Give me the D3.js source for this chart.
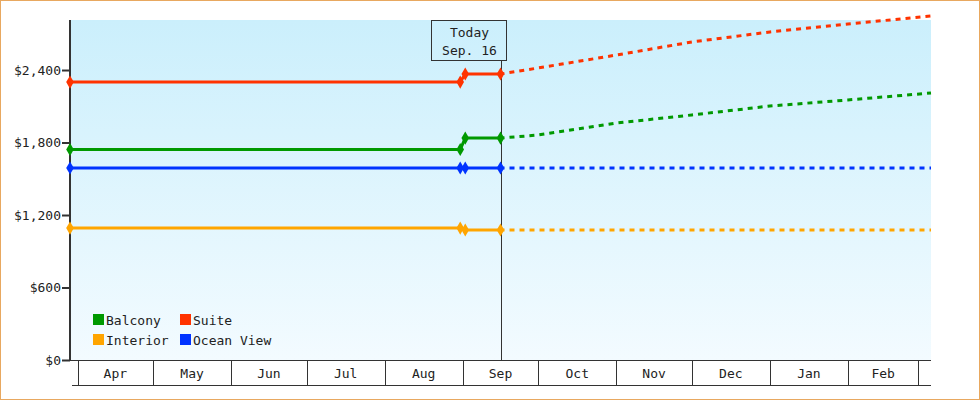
<!DOCTYPE html><html><head><meta charset="utf-8"><script src="https://cdn.jsdelivr.net/npm/d3@7"></script>
<style>body{margin:0;background:#fff}text{font-family:"DejaVu Sans Mono",monospace;font-size:13px;fill:#222}</style></head><body>
<svg id="c" width="980" height="400"></svg>
<script>
const seriesNames=["Balcony","Suite","Interior","Ocean View"];
const colors=["#009900","#ff3300","#ffa500","#0033ff"];
const pastDates=["2022-03-29","2022-08-31","2022-09-02","2022-09-16"];
const balconyPast=[1742,1742,1837,1837];
const suitePast=[2300,2300,2367,2367];
const interiorPast=[1092,1092,1076,1076];
const oceanPast=[1589,1589,1589,1589];
const futureDates=["2022-09-16","2022-10-01","2022-11-01","2022-12-01","2023-01-01","2023-02-01","2023-03-06"];
const balconyFuture=[1837,1862,1961,2028,2102,2152,2210];
const suiteFuture=[2367,2417,2524,2632,2715,2781,2847];
const interiorFuture=[1076,1076,1076,1076,1076,1076,1076];
const oceanFuture=[1589,1589,1589,1589,1589,1589,1589];
const yTicks=[0,600,1200,1800,2400];
const monthStarts=["2022-04-01","2022-05-01","2022-06-01","2022-07-01","2022-08-01","2022-09-01","2022-10-01","2022-11-01","2022-12-01","2023-01-01","2023-02-01","2023-03-01"];
const monthLabels=["Apr","May","Jun","Jul","Aug","Sep","Oct","Nov","Dec","Jan","Feb"];
const todayDate="2022-09-16";
const p=d3.timeParse("%Y-%m-%d");
const svg=d3.select("#c");
const L=70,R=931,T=20,B=360;
const x=d3.scaleTime().domain([p("2022-03-29"),p("2023-03-06")]).range([L,R]);
const y=d3.scaleLinear().domain([0,2814]).range([B,T]);
svg.append("rect").attr("x",0.5).attr("y",0.5).attr("width",979).attr("height",399).attr("fill","#fff").attr("stroke","#e8a860");
const g=svg.append("defs").append("linearGradient").attr("id","bg").attr("x1",0).attr("x2",0).attr("y1",0).attr("y2",1);
g.append("stop").attr("offset",0).attr("stop-color","#cbeffc");
g.append("stop").attr("offset",1).attr("stop-color","#f3fbff");
svg.append("rect").attr("x",L).attr("y",T).attr("width",R-L).attr("height",B-T).attr("fill","url(#bg)");
// y axis
const ya=svg.append("g").attr("transform",`translate(${L},0)`).call(d3.axisLeft(y).tickValues(yTicks).tickSize(8).tickFormat(d=>"$"+d3.format(",")(d)));
ya.select(".domain").remove();
ya.selectAll("line").attr("stroke","#333").attr("stroke-width",2);
ya.selectAll("text").attr("x",-9).style("font-size","13px");
svg.append("line").attr("x1",L).attr("x2",L).attr("y1",T).attr("y2",B+1).attr("stroke","#333").attr("stroke-width",2);
// x axis boxes
const ms=monthStarts.map(p);
svg.append("line").attr("x1",L).attr("x2",R).attr("y1",B+0.5).attr("y2",B+0.5).attr("stroke","#333");
svg.append("line").attr("x1",L+2).attr("x2",R).attr("y1",385.5).attr("y2",385.5).attr("stroke","#333");
ms.forEach(d=>svg.append("line").attr("x1",Math.round(x(d))+0.5).attr("x2",Math.round(x(d))+0.5).attr("y1",B).attr("y2",385).attr("stroke","#333"));
monthLabels.forEach((m,i)=>svg.append("text").attr("x",(x(ms[i])+x(ms[i+1]))/2).attr("y",378).attr("text-anchor","middle").text(m));
// today
const tx=Math.round(x(p(todayDate)))+0.5;
svg.append("line").attr("x1",tx).attr("x2",tx).attr("y1",60).attr("y2",B).attr("stroke","#333");
svg.append("rect").attr("x",tx-70).attr("y",20.5).attr("width",75).attr("height",40).attr("fill","none").attr("stroke","#333");
svg.append("text").attr("x",tx-32).attr("y",37).attr("text-anchor","middle").text("Today");
svg.append("text").attr("x",tx-32).attr("y",55).attr("text-anchor","middle").text("Sep. 16");
// lines
const past=[balconyPast,suitePast,interiorPast,oceanPast], fut=[balconyFuture,suiteFuture,interiorFuture,oceanFuture];
const line=d3.line().x(d=>x(d[0])).y(d=>y(d[1]));
const order=[2,3,0,1];
order.forEach(i=>{
  const fd=futureDates.map((d,j)=>[p(d),fut[i][j]]);
  svg.append("path").attr("d",line(fd)).attr("fill","none").attr("stroke",colors[i]).attr("stroke-width",3).attr("stroke-dasharray","5,5").attr("stroke-dashoffset",-9);
  const pd=pastDates.map((d,j)=>[p(d),past[i][j]]);
  svg.append("path").attr("d",line(pd)).attr("fill","none").attr("stroke",colors[i]).attr("stroke-width",3);
  pd.forEach(q=>svg.append("path").attr("d",d3.symbol(d3.symbolDiamond,50)()).attr("transform",`translate(${x(q[0])},${y(q[1])})`).attr("fill",colors[i]));
});
// legend
const leg=[[0,93,320],[1,180,320],[2,93,340],[3,180,340]];
leg.forEach(([i,lx,ly])=>{
  svg.append("rect").attr("x",lx).attr("y",ly-6).attr("width",11).attr("height",11).attr("fill",colors[i]);
  svg.append("text").attr("x",lx+13).attr("y",ly+5).text(seriesNames[i]);
});
</script></body></html>
